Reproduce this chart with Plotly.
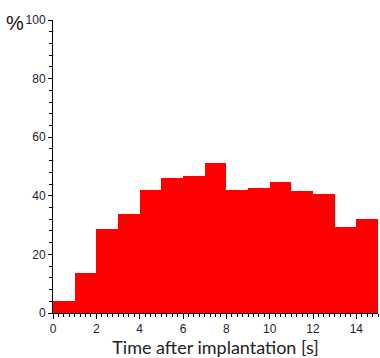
import plotly.graph_objects as go

bin_starts = list(range(15))
values = [4.1, 13.6, 28.7, 33.9, 42.0, 46.1, 46.9, 51.2, 42.0, 42.6, 44.7, 41.8, 40.5, 29.5, 32.2]
x_ticks = [0, 2, 4, 6, 8, 10, 12, 14]
y_ticks = [0, 20, 40, 60, 80, 100]

fig = go.Figure(go.Bar(
    x=[b + 0.5 for b in bin_starts], y=values, width=1,
    marker=dict(color="#ff0000", line=dict(width=0)),
))

fig.update_layout(
    width=380, height=358,
    margin=dict(l=53, r=2, t=20, b=45),
    paper_bgcolor="white", plot_bgcolor="white",
    showlegend=False, bargap=0,
    font=dict(family="Liberation Sans, Arial", size=12, color="#222233"),
    xaxis=dict(
        range=[0, 15], tickvals=x_ticks, ticks="outside", ticklen=5, tickcolor="#000",
        showline=True, linecolor="#000", linewidth=1, showgrid=False, zeroline=False,
        minor=dict(dtick=0.25, tick0=0, ticks="outside", ticklen=3, tickcolor="#000"),
        title=dict(text="Time after implantation [s]",
                   font=dict(family="Lato, Open Sans", size=18, color="#222"), standoff=2),
    ),
    yaxis=dict(
        range=[0, 100], tickvals=y_ticks, ticks="outside", ticklen=4, tickcolor="#000",
        showline=True, linecolor="#000", linewidth=1, showgrid=False, zeroline=False,
        minor=dict(dtick=4, tick0=0, ticks="outside", ticklen=3, tickcolor="#000"),
    ),
)

fig.add_annotation(text="%", xref="paper", yref="paper", x=-0.117, y=0.99,
                   xanchor="center", yanchor="middle", showarrow=False,
                   font=dict(family="Liberation Sans, Arial", size=20, color="#111"))

fig.write_html("out.html")
